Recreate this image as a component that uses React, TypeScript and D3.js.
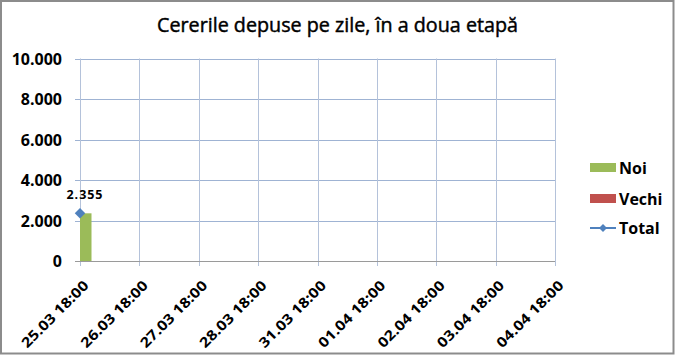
import React, { useEffect, useRef } from "react";
import * as d3 from "d3";

const categories = [
  "25.03 18:00",
  "26.03 18:00",
  "27.03 18:00",
  "28.03 18:00",
  "31.03 18:00",
  "01.04 18:00",
  "02.04 18:00",
  "03.04 18:00",
  "04.04 18:00",
];
const noiValues: (number | null)[] = [2355, null, null, null, null, null, null, null, null];
const vechiValues: (number | null)[] = [0, null, null, null, null, null, null, null, null];
const totalValues: (number | null)[] = [2355, null, null, null, null, null, null, null, null];
const yTicks = [0, 2000, 4000, 6000, 8000, 10000];
const seriesNames = ["Noi", "Vechi", "Total"];
const colors = { Noi: "#9BBB59", Vechi: "#C0504D", Total: "#4F81BD" };

const W = 675;
const H = 355;
const FONT = "'Open Sans', 'DejaVu Sans', sans-serif";

const fmt = (v: number) => d3.format(",")(v).replace(/,/g, ".");

export default function App() {
  const ref = useRef<SVGSVGElement>(null);

  useEffect(() => {
    document.body.style.margin = "0";
    const svg = d3.select(ref.current);
    svg.selectAll("*").remove();

    svg.append("rect").attr("width", W).attr("height", H).attr("fill", "#fff");
    svg
      .append("rect")
      .attr("x", 1)
      .attr("y", 1)
      .attr("width", 672.5)
      .attr("height", 352.5)
      .attr("fill", "none")
      .attr("stroke", "#8c8c8c")
      .attr("stroke-width", 2);

    const left = 80, right = 555, top = 58.5, bottom = 261;
    const x = d3.scalePoint<string>().domain(categories).range([left, right]);
    const y = d3.scaleLinear().domain([0, 10000]).range([bottom, top]);

    // title
    svg
      .append("text")
      .attr("x", 337.5)
      .attr("y", 32)
      .attr("text-anchor", "middle")
      .attr("font-family", FONT)
      .attr("font-size", 20)
      .attr("textLength", 361)
      .attr("lengthAdjust", "spacingAndGlyphs")
      .attr("fill", "#000")
      .attr("stroke", "#000")
      .attr("stroke-width", 0.45)
      .text("Cererile depuse pe zile, în a doua etapă");

    // horizontal gridlines
    svg
      .append("g")
      .selectAll("line")
      .data(yTicks.filter((t) => t > 0))
      .join("line")
      .attr("x1", left - 5)
      .attr("x2", right)
      .attr("y1", (d) => Math.round(y(d)) + 0.5)
      .attr("y2", (d) => Math.round(y(d)) + 0.5)
      .attr("stroke", "#9FB3D3")
      .attr("stroke-width", 1);

    // vertical gridlines
    svg
      .append("g")
      .selectAll("line")
      .data(categories)
      .join("line")
      .attr("x1", (d) => Math.round(x(d)!) + 0.5)
      .attr("x2", (d) => Math.round(x(d)!) + 0.5)
      .attr("y1", top)
      .attr("y2", bottom + 5)
      .attr("stroke", "#B4C2DA")
      .attr("stroke-width", 1);

    // y tick labels
    svg
      .append("g")
      .selectAll("text")
      .data(yTicks)
      .join("text")
      .attr("x", 62)
      .attr("y", (d) => y(d) + 6)
      .attr("text-anchor", "end")
      .attr("font-family", FONT)
      .attr("font-weight", "bold")
      .attr("font-size", 16)
      .attr("fill", "#000")
      .text((d) => fmt(d));

    // bars (clipped to plot area)
    svg
      .append("defs")
      .append("clipPath")
      .attr("id", "plotclip")
      .append("rect")
      .attr("x", left)
      .attr("y", top)
      .attr("width", right - left)
      .attr("height", bottom - top);

    const barW = 23;
    const stackData = categories.map((c, i) => ({
      c,
      noi: noiValues[i],
      vechi: vechiValues[i],
    }));
    const gBars = svg.append("g").attr("clip-path", "url(#plotclip)");
    gBars
      .selectAll("rect.noi")
      .data(stackData.filter((d) => d.noi != null && d.noi > 0))
      .join("rect")
      .attr("class", "noi")
      .attr("x", (d) => x(d.c)! - barW / 2)
      .attr("width", barW)
      .attr("y", (d) => y(d.noi!))
      .attr("height", (d) => bottom - y(d.noi!))
      .attr("fill", colors.Noi);
    gBars
      .selectAll("rect.vechi")
      .data(stackData.filter((d) => d.vechi != null && d.vechi > 0))
      .join("rect")
      .attr("class", "vechi")
      .attr("x", (d) => x(d.c)! - barW / 2)
      .attr("width", barW)
      .attr("y", (d) => y((d.noi || 0) + d.vechi!))
      .attr("height", (d) => y(d.noi || 0) - y((d.noi || 0) + d.vechi!))
      .attr("fill", colors.Vechi);

    // x axis line
    svg
      .append("line")
      .attr("x1", left - 5)
      .attr("x2", right)
      .attr("y1", bottom + 0.5)
      .attr("y2", bottom + 0.5)
      .attr("stroke", "#9a9a9a");

    // total line + markers
    const pts = categories
      .map((c, i) => ({ c, v: totalValues[i] }))
      .filter((d) => d.v != null) as { c: string; v: number }[];
    svg
      .append("path")
      .datum(pts)
      .attr("fill", "none")
      .attr("stroke", colors.Total)
      .attr("stroke-width", 2)
      .attr("d", d3.line<{ c: string; v: number }>().x((d) => x(d.c)!).y((d) => y(d.v)));
    const diamond = d3.symbol().type(d3.symbolDiamond2).size(70);
    svg
      .append("g")
      .selectAll("path")
      .data(pts)
      .join("path")
      .attr("transform", (d) => `translate(${x(d.c)},${y(d.v)})`)
      .attr("d", diamond()!)
      .attr("fill", colors.Total);

    // data label
    svg
      .append("g")
      .selectAll("text")
      .data(pts)
      .join("text")
      .attr("x", (d) => x(d.c)! + 4.5)
      .attr("y", (d) => y(d.v) - 14)
      .attr("text-anchor", "middle")
      .attr("font-family", FONT)
      .attr("font-weight", "bold")
      .attr("font-size", 12.5)
      .attr("textLength", 36)
      .attr("lengthAdjust", "spacing")
      .attr("fill", "#000")
      .text((d) => fmt(d.v));

    // x labels
    svg
      .append("g")
      .selectAll("text")
      .data(categories)
      .join("text")
      .attr("transform", (d) => `translate(${x(d)! + 6},${bottom + 22}) rotate(-45)`)
      .attr("text-anchor", "end")
      .attr("dy", "0.35em")
      .attr("font-family", FONT)
      .attr("font-weight", "bold")
      .attr("font-size", 14)
      .attr("textLength", 88)
      .attr("lengthAdjust", "spacingAndGlyphs")
      .attr("fill", "#000")
      .text((d) => d);

    // legend
    const lg = svg.append("g");
    const legendY = [167.5, 198.5, 228];
    seriesNames.forEach((name, i) => {
      const cy = legendY[i];
      if (name === "Total") {
        lg.append("line")
          .attr("x1", 590)
          .attr("x2", 616)
          .attr("y1", cy)
          .attr("y2", cy)
          .attr("stroke", colors.Total)
          .attr("stroke-width", 2);
        lg.append("path")
          .attr("transform", `translate(603,${cy})`)
          .attr("d", d3.symbol().type(d3.symbolDiamond2).size(40)()!)
          .attr("fill", colors.Total);
      } else {
        lg.append("rect")
          .attr("x", 590)
          .attr("y", cy - 4.5)
          .attr("width", 26)
          .attr("height", 9)
          .attr("fill", (colors as any)[name]);
      }
      lg.append("text")
        .attr("x", 619)
        .attr("y", cy + 6)
        .attr("font-family", FONT)
        .attr("font-weight", "bold")
        .attr("font-size", 16)
        .attr("fill", "#000")
        .text(name);
    });
  }, []);

  return (
    <svg
      ref={ref}
      width={W}
      height={H}
      style={{ position: "absolute", left: 0, top: 0, display: "block" }}
    />
  );
}
